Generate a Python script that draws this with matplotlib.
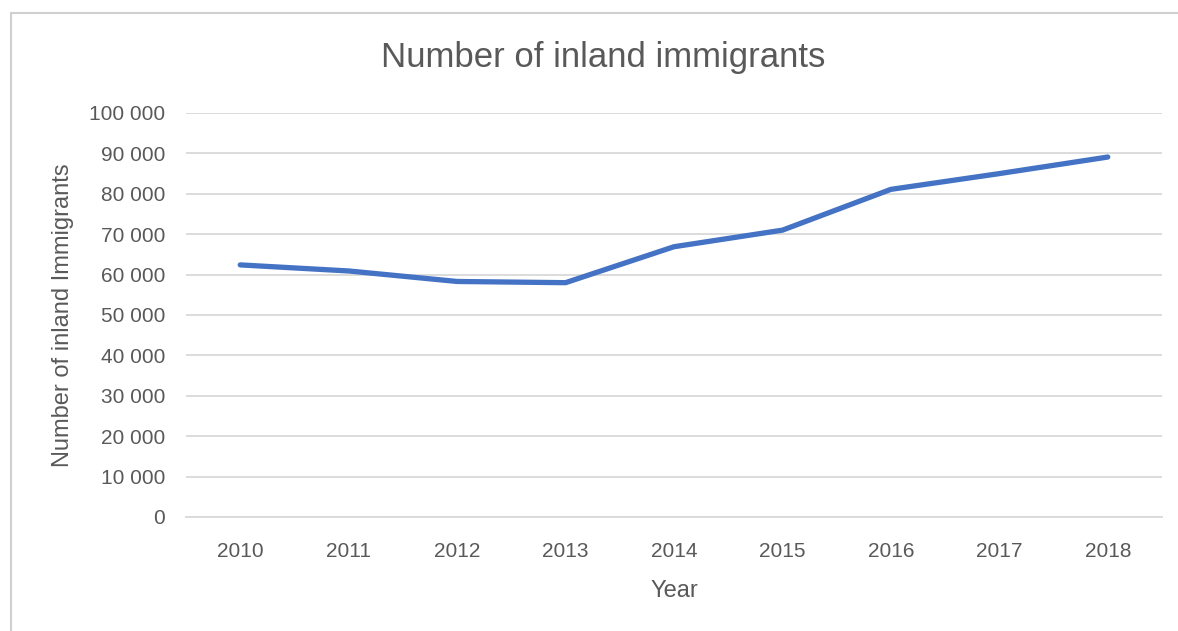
import matplotlib
matplotlib.use("Agg")
import matplotlib.pyplot as plt
import matplotlib.ticker as mtick
from matplotlib.patches import Rectangle

# ── data ──────────────────────────────────────────
YEARS = ["2010", "2011", "2012", "2013", "2014", "2015", "2016", "2017", "2018"]
IMMIGRANTS = [62400, 60900, 58300, 58000, 66900, 71000, 81100, 85000, 89100]
Y_TICKS = [0, 10000, 20000, 30000, 40000, 50000, 60000, 70000, 80000, 90000, 100000]

LINE_COLOR = "#4472c4"
TEXT_COLOR = "#595959"
GRID_COLOR = "#d9d9d9"

plt.rcParams["font.family"] = ["Liberation Sans", "DejaVu Sans"]

fig = plt.figure(figsize=(11.78, 6.31), dpi=100)
fig.patch.set_facecolor("white")

# chart frame (open on the right / bottom edge)
fig.add_artist(Rectangle((11 / 1178, -0.05), 1.2, 1 - 13 / 631 + 0.05,
                         transform=fig.transFigure, fill=False,
                         edgecolor="#d0d0d0", linewidth=1.5))

ax = fig.add_axes([186 / 1178, 1 - 517 / 631, 976 / 1178, 404 / 631])
x = list(range(len(YEARS)))
ax.plot(x, IMMIGRANTS, color=LINE_COLOR, linewidth=3.8,
        solid_capstyle="round", solid_joinstyle="round", zorder=3)

ax.set_xlim(-0.5, len(YEARS) - 0.5)
ax.set_ylim(0, 100000)
ax.set_xticks(x)
ax.set_xticklabels(YEARS)
ax.set_yticks(Y_TICKS)
ax.yaxis.set_major_formatter(mtick.FuncFormatter(lambda v, _: f"{int(v):,}".replace(",", " ")))

ax.grid(axis="y", color=GRID_COLOR, linewidth=1.3)
ax.set_axisbelow(True)
for side in ["top", "right", "left"]:
    ax.spines[side].set_visible(False)
ax.spines["bottom"].set_color(GRID_COLOR)
ax.spines["bottom"].set_linewidth(1.3)
ax.tick_params(length=0, labelsize=15, colors=TEXT_COLOR)
ax.tick_params(axis="y", pad=15)
ax.tick_params(axis="x", pad=18)

ax.set_xlabel("Year", fontsize=17, color=TEXT_COLOR, labelpad=14)
ax.set_ylabel("Number of inland Immigrants", fontsize=17, color=TEXT_COLOR, labelpad=11)

fig.text(603 / 1178, 1 - 58 / 631, "Number of inland immigrants",
         ha="center", va="center", fontsize=25, color=TEXT_COLOR)

fig.savefig("out.png", dpi=100, facecolor="white")
